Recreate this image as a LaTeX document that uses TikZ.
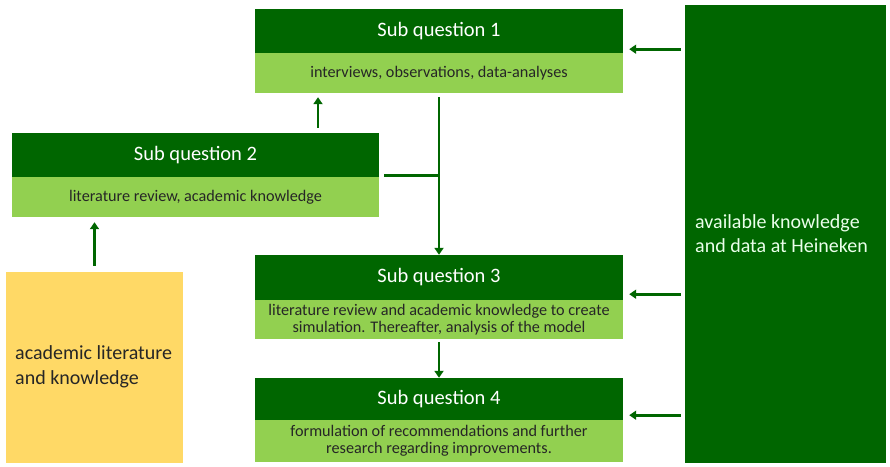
\documentclass[tikz,border=0pt]{standalone}
\usepackage{fontspec}
\setmainfont{Carlito}
\usetikzlibrary{arrows.meta,calc}
\definecolor{dkg}{RGB}{0,102,0}
\definecolor{ltg}{RGB}{146,208,80}
\definecolor{gold}{RGB}{255,217,102}
\definecolor{txt}{RGB}{38,38,38}
\begin{document}
\begin{tikzpicture}[x=1pt,y=-1pt,
  hdr/.style={fill=dkg,draw=none,text=white,font=\fontsize{20.5}{24}\selectfont,inner sep=0pt,minimum width=368pt,minimum height=44pt},
  body/.style={fill=ltg,draw=none,text=txt,font=\fontsize{16.2}{17.5}\selectfont,inner sep=0pt,minimum width=368pt,align=center},
  arr/.style={draw=dkg,line width=2.8pt,-{Triangle[length=7pt,width=9pt]}},
  ln/.style={draw=dkg,line width=2.8pt}]
\useasboundingbox (0,0) rectangle (890,466);
% Sub question 1
\node[hdr] (sq1h) at (439,31) {Sub question 1};
\node[body,minimum height=40pt] (sq1b) at (439,73) {interviews, observations, data-analyses};
% Sub question 2
\node[hdr,minimum width=367pt] (sq2h) at (195.5,155) {Sub question 2};
\node[body,minimum width=367pt,minimum height=40pt] (sq2b) at (195.5,197) {literature review, academic knowledge};
% Sub question 3
\node[hdr,minimum height=45pt] (sq3h) at (439,277.5) {Sub question 3};
\node[body,minimum height=39pt] (sq3b) at (439,319.5) {literature review and academic knowledge to create\\simulation. Thereafter, analysis of the model};
% Sub question 4
\node[hdr,minimum height=42pt] (sq4h) at (439,399) {Sub question 4};
\node[body,minimum height=42pt] (sq4b) at (439,441) {formulation of recommendations and further\\research regarding improvements.};
% yellow box
\node[fill=gold,draw=none,minimum width=177pt,minimum height=191pt,inner sep=0pt] (yel) at (94.5,367.5) {};
\node[anchor=west,align=left,font=\fontsize{20}{25}\selectfont,text=txt,inner sep=0pt] (yelt) at (15,367) {academic literature\\and knowledge};
% right box
\node[fill=dkg,draw=none,minimum width=201pt,minimum height=458pt,inner sep=0pt] (hk) at (785.5,234) {};
\node[anchor=west,align=left,font=\fontsize{20}{24}\selectfont,text=white!92!green,inner sep=0pt] (hkt) at (695,234) {available knowledge\\and data at Heineken};
% connectors
\coordinate (c1) at ([xshift=122.5pt,yshift=5pt]sq2h.north);
\coordinate (c1e) at (c1 |- sq1b.south);
\draw[arr,shorten >=4pt] (c1) -- (c1e);
\draw[arr,shorten <=4pt] (sq1b.south) -- (sq3h.north);
\coordinate (c2) at ([shift={(5pt,2pt)}]sq2h.south east);
\draw[ln] (c2) -- (c2 -| sq1b.south);
\coordinate (c3) at (sq2b.south -| yel.north);
\draw[arr,shorten <=6pt,shorten >=5pt] (yel.north) -- (c3);
\draw[arr,shorten <=3pt] (sq3b.south) -- (sq4h.north);
\coordinate (a1) at ([shift={(6pt,4pt)}]sq1h.south east);
\coordinate (a3) at ([shift={(6pt,6pt)}]sq3h.south east);
\coordinate (a4) at ([shift={(6pt,5pt)}]sq4h.south east);
\draw[arr,shorten <=4pt] (hk.west |- a1) -- (a1);
\draw[arr,shorten <=4pt] (hk.west |- a3) -- (a3);
\draw[arr,shorten <=4pt] (hk.west |- a4) -- (a4);
\end{tikzpicture}
\end{document}
